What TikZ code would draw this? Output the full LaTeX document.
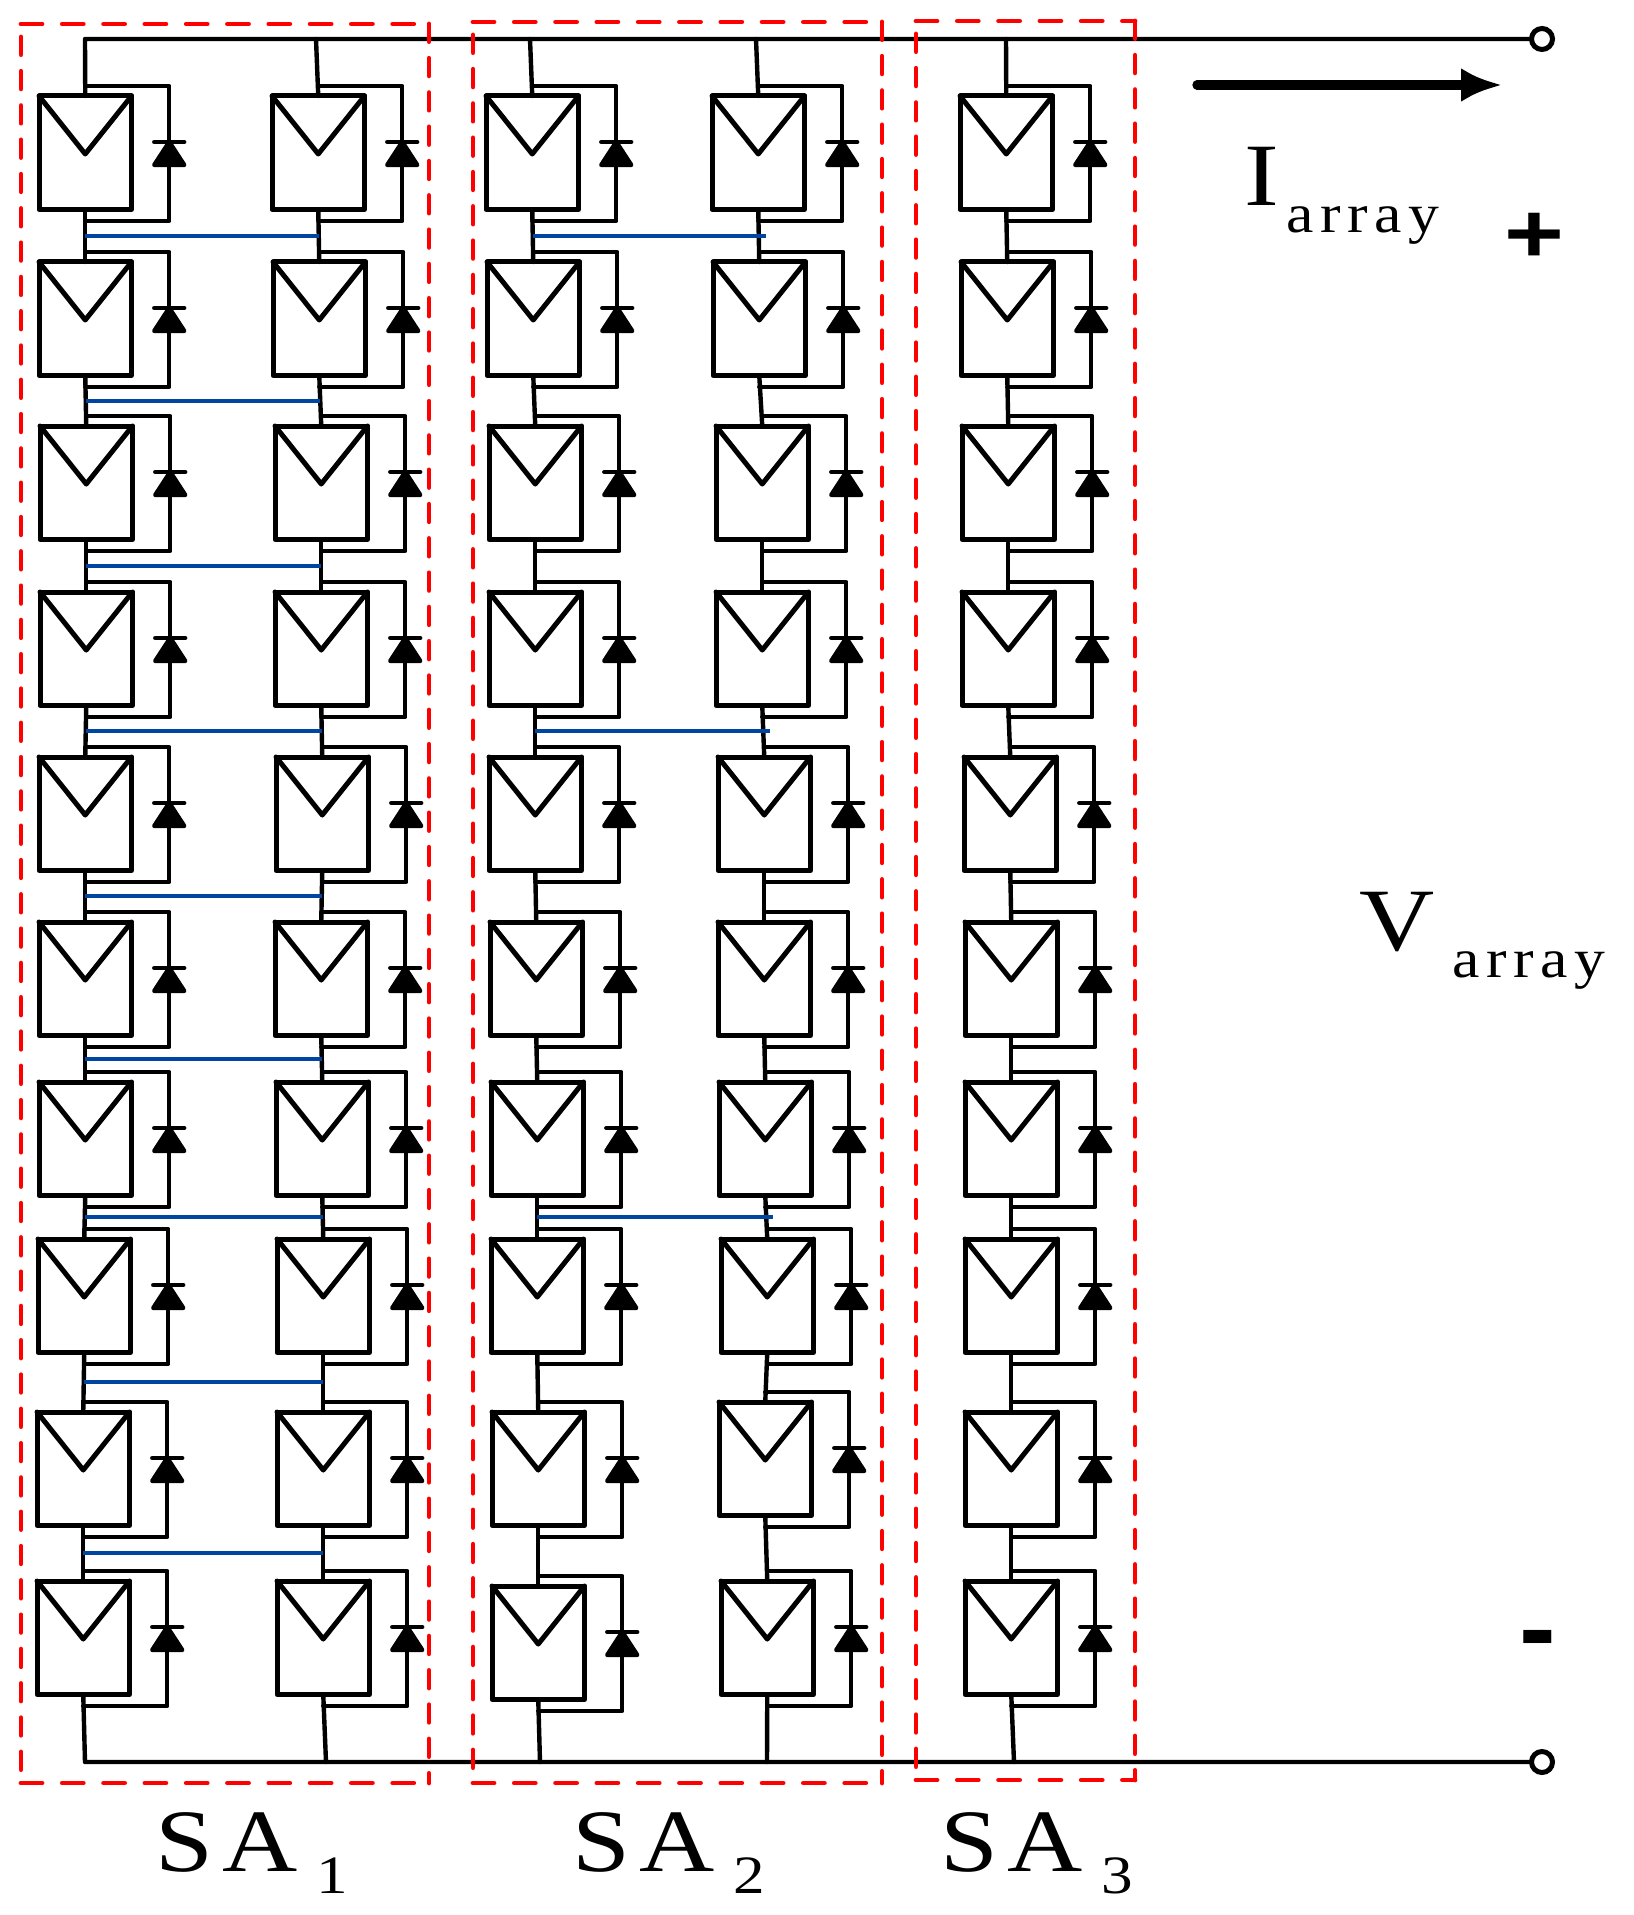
\documentclass[tikz,border=0pt]{standalone}
\usepackage{fontspec}
\setmainfont{Liberation Serif}
\newfontfamily\widefont[FakeStretch=1.17]{Liberation Serif}
\newfontfamily\spacedfont[LetterSpace=12,FakeStretch=1.12]{Liberation Serif}
\newfontfamily\signfont{Liberation Sans}
\newfontfamily\plusfont[FakeStretch=1.22]{Liberation Sans}
\usetikzlibrary{calc,arrows.meta}

\definecolor{c_tie}{RGB}{0,70,160}
\definecolor{c_group}{RGB}{255,0,0}

\tikzset{
  wire/.style={line width=2.2pt, line join=round, line cap=round},
  panelbox/.style={draw, rectangle, line width=2.5pt, line join=round, inner sep=0pt, outer sep=0pt,
    minimum width=46.25pt, minimum height=56.75pt, anchor=north west},
  tie/.style={line width=2pt, c_tie},
  groupflat/.style={line width=2.4pt, c_group, line cap=round, dash pattern=on 10.5pt off 10.15pt},
  groupside/.style={line width=2.4pt, c_group, line cap=round, dash pattern=on 8.8pt off 8.35pt},
  terminal/.style={draw, circle, fill=white, line width=2.5pt, inner sep=0pt, outer sep=0pt, minimum size=10.5pt},
  textlabel/.style={anchor=base west, inner sep=0pt, outer sep=0pt}
}

% One module with its bypass diode
\newcommand{\pvpanel}[3]{%
  \node (p#1) at (#2,#3) [panelbox] {};
  \draw[wire, line width=2.5pt] (p#1.north west) -- ($(p#1.north)+(0,58)$) -- (p#1.north east);
  \coordinate (p#1a) at ($(p#1.north)+(0,-10)$);
  \coordinate (p#1k) at ($(p#1.south)+(0,11.5)$);
  \coordinate (p#1d) at ($(p#1.north)+(84,46)$);
  \draw[wire] (p#1a) -| (p#1d) |- (p#1k);
  \draw[wire] ($(p#1d)+(-15,0)$) -- ($(p#1d)+(15,0)$);
  \filldraw[wire] (p#1d) -- ($(p#1d)+(15,23)$) -- ($(p#1d)+(-15,23)$) -- cycle;
}

% Big letter with a spaced lower index
\newcommand{\mainsize}{\fontsize{44.5}{50}\widefont}
\newcommand{\arraysub}{\raisebox{-13.5pt}{\fontsize{27.5}{30}\spacedfont array}}
\newcommand{\sagroup}[1]{\mainsize S\hspace{5pt}A\hspace{9pt}\raisebox{-11pt}{\fontsize{27}{30}\widefont #1}}

\begin{document}
\begin{tikzpicture}[x=0.5pt, y=-0.5pt]

\useasboundingbox (0,0) rectangle (1633,1915);

% Column 1
\foreach \s/\x/\y in {1/39/96, 2/39/262, 3/40/426, 4/40/592, 5/39/757,
                      6/39/922, 7/39/1082, 8/38/1239, 9/37/1412, 10/37/1581} {
  \pvpanel{1-\s}{\x}{\y}
}
% Column 2
\foreach \s/\x/\y in {1/272/96, 2/273/262, 3/275/426, 4/275/592, 5/276/757,
                      6/275/922, 7/276/1082, 8/277/1239, 9/277/1412, 10/277/1581} {
  \pvpanel{2-\s}{\x}{\y}
}
% Column 3
\foreach \s/\x/\y in {1/486/96, 2/487/262, 3/489/426, 4/489/592, 5/489/757,
                      6/490/922, 7/491/1082, 8/491/1239, 9/492/1412, 10/492/1586} {
  \pvpanel{3-\s}{\x}{\y}
}
% Column 4
\foreach \s/\x/\y in {1/712/96, 2/713/262, 3/716/426, 4/716/592, 5/718/757,
                      6/718/922, 7/719/1082, 8/721/1239, 9/719/1402, 10/721/1581} {
  \pvpanel{4-\s}{\x}{\y}
}
% Column 5
\foreach \s/\x/\y in {1/960/96, 2/961/262, 3/962/426, 4/962/592, 5/964/757,
                      6/965/922, 7/965/1082, 8/965/1239, 9/965/1412, 10/965/1581} {
  \pvpanel{5-\s}{\x}{\y}
}

% Strings
\foreach \c in {1,...,5} {
  \foreach \s in {1,...,9} {
    \pgfmathtruncatemacro{\t}{\s + 1}
    \draw[wire] (p\c-\s.south) -- (p\c-\t.north);
  }
}

% Bus lines
\node (plus) at (1542,39) [terminal] {};
\node (minus) at (1542,1762) [terminal] {};
\coordinate (top1) at (85,39);
\coordinate (bottom1) at (85,1762);
\draw[wire] (p1-1.north) -- (top1) -- (plus);
\draw[wire] (p1-10.south) -- (bottom1) -- (minus);
\foreach \c/\t/\b in {2/316/326, 3/530/540, 4/756/767, 5/1006/1014} {
  \coordinate (top\c) at (\t,39);
  \coordinate (bottom\c) at (\b,1762);
  \draw[wire] (p\c-1.north) -- (top\c);
  \draw[wire] (p\c-10.south) -- (bottom\c);
}

% Cross ties
\foreach \s in {1,...,9} {
  \pgfmathtruncatemacro{\t}{\s + 1}
  \coordinate (tieleft\s) at ($(p1-\s.south)!0.5!(p1-\t.north)$);
  \coordinate (tieright\s) at ($(p2-\s.south)!0.5!(p2-\t.north)$);
  \draw[tie] (tieleft\s) -- (tieright\s);
}
\foreach \s in {1,4,7} {
  \pgfmathtruncatemacro{\t}{\s + 1}
  \coordinate (tiemidleft\s) at ($(p3-\s.south)!0.5!(p3-\t.north)$);
  \coordinate (tiemidright\s) at ($(p4-\s.south)!0.5!(p4-\t.north)+(7,0)$);
  \draw[tie] (tiemidleft\s) -- (tiemidright\s);
}

% Sub array frames
\foreach \g/\l/\r/\u/\d in {1/21/429/24/1783, 2/473/882/22/1783, 3/916/1135/21/1780} {
  \coordinate (nw\g) at (\l,\u);
  \coordinate (ne\g) at (\r,\u);
  \coordinate (sw\g) at (\l,\d);
  \coordinate (se\g) at (\r,\d);
  \draw[groupflat] (nw\g) -- (ne\g);
  \draw[groupflat] (sw\g) -- (se\g);
  \draw[groupside] (ne\g) -- (se\g);
  \draw[groupside, dash phase=10.65pt] (nw\g) -- (sw\g);
}

% Current arrow
\coordinate (arrowstart) at (1197,85);
\coordinate (arrowend) at (1502,85);
\draw[line width=4.7pt, line cap=round, -{Latex[length=20.5pt,width=17pt]}] (arrowstart) -- (arrowend);

% Labels
\node (iarray) at (1244,206) [textlabel] {\mainsize I\hspace{4pt}\arraysub};
\node (varray) at (1359,950) [textlabel] {\mainsize V\hspace{9pt}\arraysub};
\node (signplus) at (1534,238) [inner sep=0pt] {\fontsize{42}{42}\plusfont\bfseries +};
\node (signminus) at (1538,1648) [inner sep=0pt] {\fontsize{55}{55}\signfont\bfseries -};

\node (sa1) at (155,1871) [textlabel] {\sagroup{1}};
\node (sa2) at (572,1871) [textlabel] {\sagroup{2}};
\node (sa3) at (940,1871) [textlabel] {\sagroup{3}};

\end{tikzpicture}
\end{document}
